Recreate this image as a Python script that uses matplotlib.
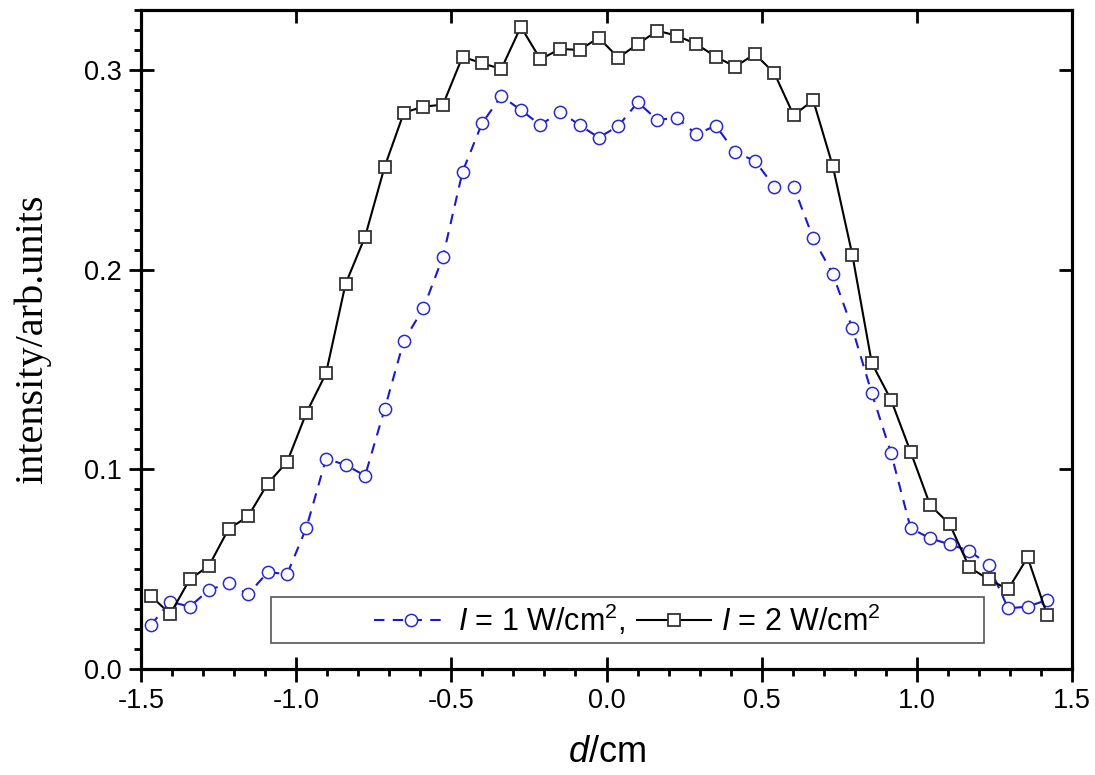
"""Intensity profile across the beam for two input intensities."""
import matplotlib
matplotlib.use("Agg")
import matplotlib.pyplot as plt
import matplotlib as mpl
from matplotlib.patches import Rectangle
from matplotlib.ticker import MultipleLocator, FormatStrFormatter

# distance d/cm (shared by both series)
d_cm = [-1.469, -1.406, -1.343, -1.281, -1.218, -1.155, -1.092, -1.029,
        -0.967, -0.904, -0.841, -0.778, -0.715, -0.653, -0.590, -0.527,
        -0.464, -0.401, -0.339, -0.276, -0.213, -0.150, -0.087, -0.025,
        0.038, 0.101, 0.164, 0.227, 0.289, 0.352, 0.415, 0.478,
        0.541, 0.603, 0.666, 0.729, 0.792, 0.855, 0.917, 0.980,
        1.043, 1.106, 1.169, 1.231, 1.294, 1.357, 1.420]

# I = 1 W/cm^2
int_1w = [0.0219, 0.0337, 0.0312, 0.0396, 0.0429, 0.0374, 0.0484, 0.0476,
          0.0708, 0.1053, 0.1022, 0.0968, 0.1302, 0.1644, 0.1806, 0.2065,
          0.2490, 0.2733, 0.2869, 0.2799, 0.2724, 0.2791, 0.2724, 0.2661,
          0.2719, 0.2838, 0.2749, 0.2761, 0.2677, 0.2721, 0.2587, 0.2545,
          0.2415, 0.2415, 0.2157, 0.1978, 0.1706, 0.1380, 0.1080, 0.0705,
          0.0654, 0.0624, 0.0592, 0.0521, 0.0304, 0.0312, 0.0346]

# I = 2 W/cm^2
int_2w = [0.0367, 0.0275, 0.0449, 0.0517, 0.0701, 0.0764, 0.0928, 0.1038,
          0.1283, 0.1480, 0.1928, 0.2165, 0.2515, 0.2786, 0.2816, 0.2826,
          0.3066, 0.3033, 0.3005, 0.3216, 0.3053, 0.3105, 0.3100, 0.3161,
          0.3061, 0.3130, 0.3196, 0.3171, 0.3130, 0.3066, 0.3016, 0.3080,
          0.2983, 0.2773, 0.2848, 0.2519, 0.2075, 0.1531, 0.1347, 0.1087,
          0.0820, 0.0725, 0.0509, 0.0449, 0.0399, 0.0559, 0.0270]

labels = [r"$I$ = 1 W/cm$^2$,", r"$I$ = 2 W/cm$^2$"]

mpl.rcParams.update({
    "font.family": ["Liberation Sans", "DejaVu Sans"],
    "mathtext.fontset": "custom",
    "mathtext.rm": "Liberation Sans",
    "mathtext.it": "Liberation Sans:italic",
    "axes.unicode_minus": False,
    "axes.linewidth": 2.2,
    "xtick.labelsize": 19.5,
    "ytick.labelsize": 19.5,
})

fig = plt.figure(figsize=(10.95, 7.75), dpi=100)
ax = fig.add_axes([0.1288, 0.1368, 0.8502, 0.8503])

ax.plot(d_cm, int_1w, ls=(0, (5, 4)), lw=1.5, color="#1a1acc",
        marker="o", ms=8.8, mfc="white", mec="#2a2acc", mew=1.1,
        label=labels[0], zorder=3)
ax.plot(d_cm, int_2w, ls="-", lw=1.5, color="black",
        marker="s", ms=9, mfc="white", mec="#333333", mew=1.3,
        label=labels[1], zorder=4)

ax.set_xlim(-1.5, 1.5)
ax.set_ylim(0, 0.33)
ax.xaxis.set_major_locator(MultipleLocator(0.5))
ax.xaxis.set_minor_locator(MultipleLocator(0.1))
ax.yaxis.set_major_locator(MultipleLocator(0.1))
ax.yaxis.set_minor_locator(MultipleLocator(0.01))
ax.xaxis.set_major_formatter(FormatStrFormatter("%.1f"))
ax.yaxis.set_major_formatter(FormatStrFormatter("%.1f"))

# top/right ticks point inward, majors only
ax_top = ax.twiny()
ax_top.set_xlim(ax.get_xlim())
ax_top.xaxis.set_major_locator(MultipleLocator(0.5))
ax_top.tick_params(axis="x", direction="in", length=9.5, width=2,
                   labeltop=False)
ax_right = ax.twinx()
ax_right.set_ylim(ax.get_ylim())
ax_right.yaxis.set_major_locator(MultipleLocator(0.1))
ax_right.tick_params(axis="y", direction="in", length=9.5, width=2,
                     labelright=False)

ax.tick_params(which="major", direction="inout", length=18, width=2,
               labelsize=19.5, pad=5)
ax.tick_params(which="minor", direction="out", length=5, width=2)

ax.set_xlabel(r"$d$/cm", fontsize=26)
ax.xaxis.set_label_coords(0.5, -0.100)
ax.set_ylabel("intensity/arb.units", fontsize=29,
              family=["Liberation Serif", "DejaVu Serif"])
ax.yaxis.set_label_coords(-0.097, 0.5)

# legend box
ax.add_patch(Rectangle((0.1396, 0.0395), 0.766, 0.0698, transform=ax.transAxes,
                       fill=False, ec="#555555", lw=1.2, zorder=5))
ax.legend(loc="center", bbox_to_anchor=(0.1396 + 0.766 / 2, 0.0395 + 0.0698 / 2),
          ncol=2, frameon=False, fontsize=22, handlelength=2.4,
          handletextpad=0.34, columnspacing=0.4, borderpad=0.0)

fig.savefig("out.png", dpi=100)
